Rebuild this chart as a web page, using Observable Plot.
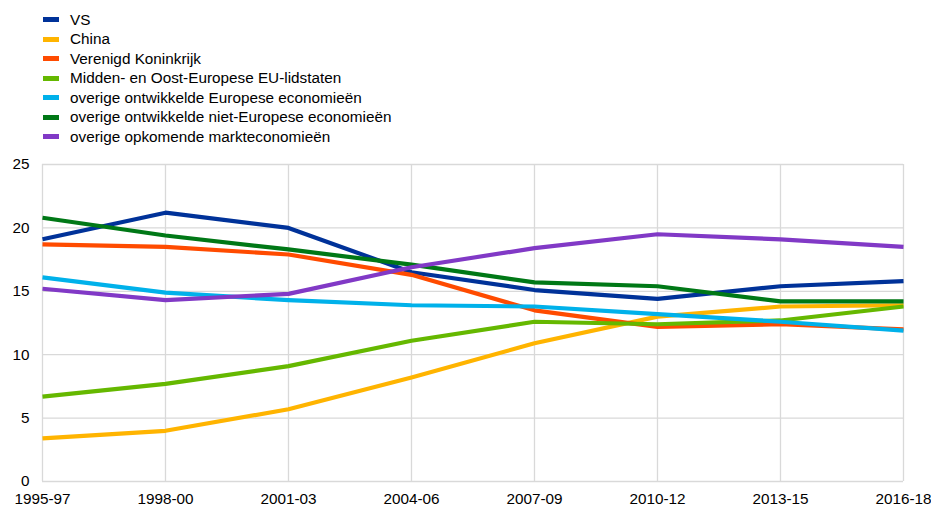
<!DOCTYPE html>
<html>
<head>
<meta charset="utf-8">
<script src="https://cdn.jsdelivr.net/npm/d3@7"></script>
<script src="https://cdn.jsdelivr.net/npm/@observablehq/plot@0.6"></script>
<style>
  body { margin: 0; background: #fff; font-family: "Liberation Sans", Arial, sans-serif; }
  #legend { height: 150px; box-sizing: border-box; padding-top: 10px; padding-left: 43px; }
  .row { height: 19.5px; display: flex; align-items: center; font-size: 15.3px; color: #000; }
  .sw { width: 16px; height: 5px; margin-right: 11px; flex: none; }
</style>
</head>
<body>
<div id="legend"></div>
<div id="chart"></div>
<script>
const periods = ["1995-97","1998-00","2001-03","2004-06","2007-09","2010-12","2013-15","2016-18"];
const seriesNames = [
  "VS",
  "China",
  "Verenigd Koninkrijk",
  "Midden- en Oost-Europese EU-lidstaten",
  "overige ontwikkelde Europese economieën",
  "overige ontwikkelde niet-Europese economieën",
  "overige opkomende markteconomieën"
];
const colors = ["#003299","#FFB400","#FF4B00","#65B800","#00B1EA","#007816","#8139C6"];
const vs      = [19.1, 21.2, 20.0, 16.5, 15.1, 14.4, 15.4, 15.8];
const china   = [3.4, 4.0, 5.7, 8.2, 10.9, 13.0, 13.8, 13.9];
const uk      = [18.7, 18.5, 17.9, 16.3, 13.5, 12.2, 12.4, 12.0];
const cee     = [6.7, 7.7, 9.1, 11.1, 12.6, 12.4, 12.7, 13.8];
const otherEu = [16.1, 14.9, 14.3, 13.9, 13.8, 13.2, 12.6, 11.9];
const otherNonEu = [20.8, 19.4, 18.3, 17.1, 15.7, 15.4, 14.2, 14.2];
const emerging = [15.2, 14.3, 14.8, 16.9, 18.4, 19.5, 19.1, 18.5];
const yTicks = [0, 5, 10, 15, 20, 25];

const seriesValues = [vs, china, uk, cee, otherEu, otherNonEu, emerging];
const data = [];
seriesNames.forEach((name, i) => {
  seriesValues[i].forEach((v, j) => data.push({series: name, period: periods[j], value: v}));
});

const legend = document.getElementById("legend");
seriesNames.forEach((name, i) => {
  const row = document.createElement("div");
  row.className = "row";
  const sw = document.createElement("span");
  sw.className = "sw";
  sw.style.background = colors[i];
  const t = document.createElement("span");
  t.textContent = name;
  row.appendChild(sw); row.appendChild(t);
  legend.appendChild(row);
});

const chart = Plot.plot({
  width: 931,
  height: 357,
  marginTop: 14,
  marginBottom: 26,
  marginLeft: 42,
  marginRight: 28,
  style: {fontFamily: "Liberation Sans, Arial, sans-serif", fontSize: "15.3px", color: "#000", background: "#fff"},
  x: {type: "point", domain: periods, padding: 0, label: null},
  y: {domain: [0, 25], label: null},
  color: {domain: seriesNames, range: colors},
  marks: [
    Plot.gridY(yTicks, {stroke: "#d9d9d9", strokeOpacity: 1, strokeWidth: 1.3}),
    Plot.gridX(periods, {stroke: "#d9d9d9", strokeOpacity: 1, strokeWidth: 1.3}),
    Plot.axisY(yTicks, {tickSize: 0, tickPadding: 13, fontSize: 15.3, label: null}),
    Plot.axisX(periods, {tickSize: 0, tickPadding: 12, fontSize: 15.3, label: null}),
    Plot.line(data, {x: "period", y: "value", z: "series", stroke: "series", strokeWidth: 4.2, strokeLinejoin: "round", strokeLinecap: "butt"})
  ]
});
document.getElementById("chart").appendChild(chart);
</script>
</body>
</html>
